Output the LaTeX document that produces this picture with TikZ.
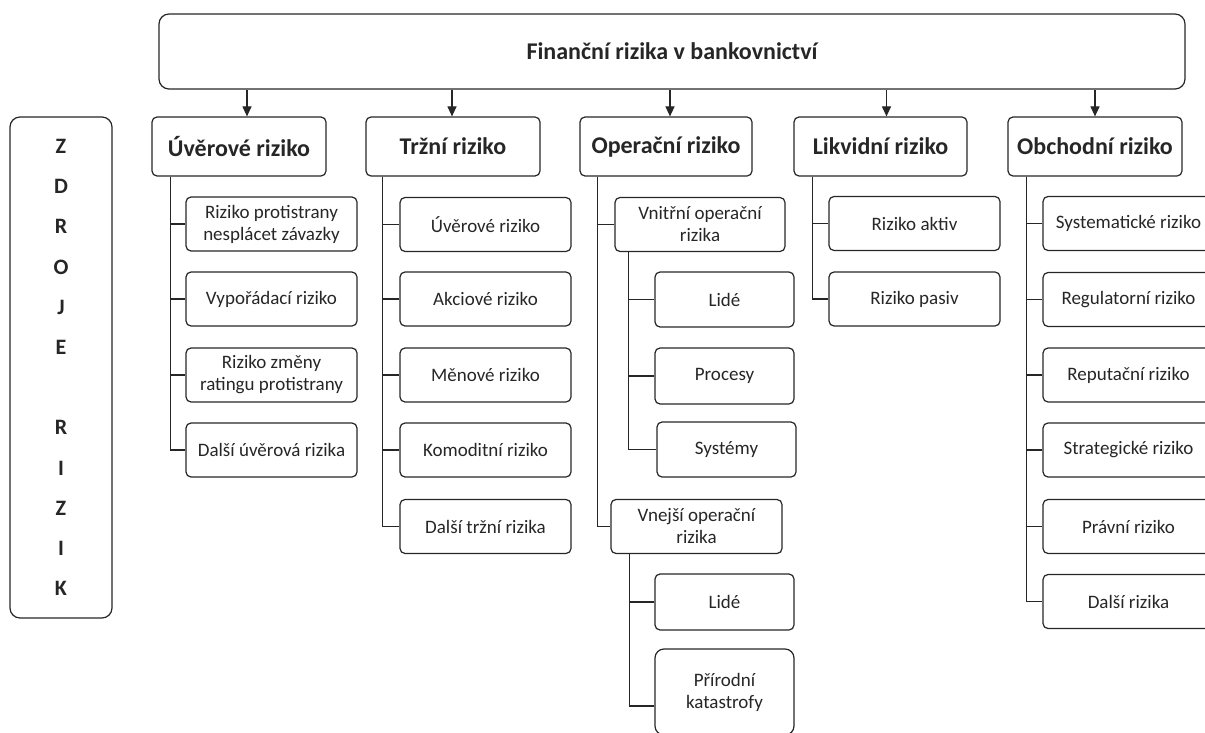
\documentclass[tikz,border=0pt]{standalone}
\usepackage{fontspec}
\setmainfont{Carlito}
\usepackage{tikz}
\usetikzlibrary{arrows.meta}

\begin{document}
\begin{tikzpicture}[x=1pt,y=-1pt,
  box/.style={draw=black!85, line width=1.2pt, rounded corners=5pt, align=center, inner sep=0pt, text=black!85},
  head/.style={box, minimum width=174pt, minimum height=59pt, font=\bfseries\fontsize{24}{28}\selectfont},
  leaf/.style={box, minimum width=171pt, minimum height=54pt, font=\fontsize{19}{22}\selectfont},
  subleaf/.style={leaf, minimum width=139pt},
  link/.style={black!85, line width=1.3pt},
  arr/.style={black!85, line width=1.2pt, -{Triangle[width=9pt,length=10pt]}}]
\useasboundingbox (0,0) rectangle (1205,733);

\node [box, rounded corners=10pt, minimum width=1026pt, minimum height=75pt, font=\bfseries\fontsize{24}{28}\selectfont] (top) at (672,51.5) {Finanční rizika v bankovnictví};

\node [box, rounded corners=10pt, minimum width=102pt, minimum height=501pt, font=\bfseries\fontsize{22}{40.2}\selectfont] (zdroje) at (61,367.5) {Z\\D\\R\\O\\J\\E\\~\\R\\I\\Z\\I\\K};

% hlavni skupiny
\node [head] (uver) at (239,146.5) {Úvěrové riziko};
\node [head] (trzni) at (453,146.5) {Tržní riziko};
\node [head, minimum width=172pt] (oper) at (666,146.5) {Operační riziko};
\node [head, minimum width=173pt] (likv) at (880.5,146.5) {Likvidní riziko};
\node [head] (obch) at (1095,146.5) {Obchodní riziko};

\draw [arr] ([xshift=8pt]uver.north |- top.south) -- ([xshift=8pt]uver.north);
\draw [arr] ([xshift=-1pt]trzni.north |- top.south) -- ([xshift=-1pt]trzni.north);
\draw [arr] ([xshift=4pt]oper.north |- top.south) -- ([xshift=4pt]oper.north);
\draw [arr] ([xshift=6pt]likv.north |- top.south) -- ([xshift=6pt]likv.north);
\draw [arr] (obch.north |- top.south) -- (obch.north);

% uverove riziko
\node [leaf] (u1) at (271.5,224) {Riziko protistrany\\nesplácet závazky};
\node [leaf] (u2) at (271.5,299) {Vypořádací riziko};
\node [leaf] (u3) at (271.5,375) {Riziko změny\\ratingu protistrany};
\node [leaf] (u4) at (271.5,450) {Další úvěrová rizika};
\foreach \c in {u1,u2,u3,u4}
  \draw [link] ([xshift=19pt]uver.south west) |- (\c.west);

% trzni riziko
\node [leaf] (t1) at (485.5,224.5) {Úvěrové riziko};
\node [leaf] (t2) at (485.5,299) {Akciové riziko};
\node [leaf] (t3) at (485.5,375) {Měnové riziko};
\node [leaf] (t4) at (485.5,450) {Komoditní riziko};
\node [leaf] (t5) at (485.5,526.5) {Další tržní rizika};
\foreach \c in {t1,t2,t3,t4,t5}
  \draw [link] ([xshift=17pt]trzni.south west) |- (\c.west);

% operacni riziko
\node [leaf, minimum width=170pt] (vnitr) at (700,224.5) {Vnitřní operační\\rizika};
\node [leaf] (vnej) at (696.5,526.5) {Vnejší operační\\rizika};
\foreach \c in {vnitr,vnej}
  \draw [link] ([xshift=18pt]oper.south west) |- (\c.west);

\node [subleaf, minimum height=55pt] (o1) at (724.5,299.5) {Lidé};
\node [subleaf, minimum height=56pt] (o2) at (724.5,376) {Procesy};
\node [subleaf, minimum height=55pt] (o3) at (726.5,449.5) {Systémy};
\foreach \c in {o1,o2,o3}
  \draw [link] ([xshift=14pt]vnitr.south west) |- (\c.west);

\node [subleaf, minimum height=56pt] (o4) at (724.5,602) {Lidé};
\node [subleaf, minimum height=86pt, rounded corners=9pt] (o5) at (724.5,692) {Přírodní\\katastrofy};
\draw [link] ([xshift=19pt]vnej.south west) |- (o4.west);
\draw [link] ([xshift=19pt]vnej.south west) |- ([yshift=-14pt]o5.west);

% likvidni riziko
\node [leaf] (l1) at (914.5,223.5) {Riziko aktiv};
\node [leaf] (l2) at (914.5,299) {Riziko pasiv};
\foreach \c in {l1,l2}
  \draw [link] ([xshift=19pt]likv.south west) |- (\c.west);

% obchodni riziko
\node [leaf] (b1) at (1128.5,223.5) {Systematické riziko};
\node [leaf] (b2) at (1128.5,299.5) {Regulatorní riziko};
\node [leaf] (b3) at (1128.5,375) {Reputační riziko};
\node [leaf] (b4) at (1128.5,450) {Strategické riziko};
\node [leaf] (b5) at (1128.5,526.5) {Právní riziko};
\node [leaf] (b6) at (1128.5,601.5) {Další rizika};
\foreach \c in {b1,b2,b3,b4,b5,b6}
  \draw [link] ([xshift=19pt]obch.south west) |- (\c.west);

\end{tikzpicture}
\end{document}
